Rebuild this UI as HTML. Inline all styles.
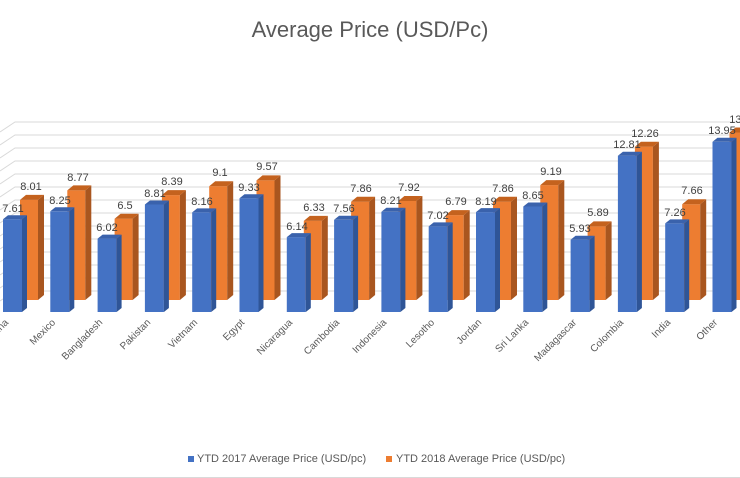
<!DOCTYPE html><html><head><style>body{margin:0;background:#fff}svg{display:block;font-family:"Liberation Sans",sans-serif}</style></head><body>
<svg width="740" height="478" viewBox="0 0 740 478">
<rect width="740" height="478" fill="#fff"/>
<text x="370" y="37" text-anchor="middle" font-size="22" fill="#595959">Average Price (USD/Pc)</text>
<g stroke="#d9d9d9" stroke-width="1" fill="none">
<path d="M0,132 L15,122 H740"/><path d="M0,145 L15,135 H740"/><path d="M0,158 L15,148 H740"/><path d="M0,171 L15,161 H740"/><path d="M0,184 L15,174 H740"/><path d="M0,197 L15,187 H740"/><path d="M0,210 L15,200 H740"/><path d="M0,223 L15,213 H740"/><path d="M0,236 L15,226 H740"/><path d="M0,249 L15,239 H740"/><path d="M0,262 L15,252 H740"/><path d="M0,275 L15,265 H740"/><path d="M0,288 L15,278 H740"/><path d="M0,301 L15,291 H740"/>
</g>
<g id="bars">
<!-- orange first (behind), then blue -->
<g fill="#ED7D31">
<rect x="20" y="199.9" width="18" height="100.1"/><rect x="67.3" y="190.4" width="18" height="109.6"/><rect x="114.6" y="218.7" width="18" height="81.3"/><rect x="161.9" y="195.1" width="18" height="104.9"/><rect x="209.2" y="186.2" width="18" height="113.8"/><rect x="256.5" y="180.4" width="18" height="119.6"/><rect x="303.8" y="220.9" width="18" height="79.1"/><rect x="351.1" y="201.7" width="18" height="98.3"/><rect x="398.4" y="201" width="18" height="99"/><rect x="445.7" y="215.1" width="18" height="84.9"/><rect x="493" y="201.7" width="18" height="98.3"/><rect x="540.3" y="185.1" width="18" height="114.9"/><rect x="587.6" y="226.4" width="18" height="73.6"/><rect x="634.9" y="146.7" width="18" height="153.3"/><rect x="682.2" y="204.2" width="18" height="95.8"/><rect x="729.5" y="132.5" width="18" height="167.5"/>
</g>
<g fill="#A9561F">
<path d="M38,199.9 l6,-5 V295 l-6,5Z"/><path d="M85.3,190.4 l6,-5 V295 l-6,5Z"/><path d="M132.6,218.7 l6,-5 V295 l-6,5Z"/><path d="M179.9,195.1 l6,-5 V295 l-6,5Z"/><path d="M227.2,186.2 l6,-5 V295 l-6,5Z"/><path d="M274.5,180.4 l6,-5 V295 l-6,5Z"/><path d="M321.8,220.9 l6,-5 V295 l-6,5Z"/><path d="M369.1,201.7 l6,-5 V295 l-6,5Z"/><path d="M416.4,201 l6,-5 V295 l-6,5Z"/><path d="M463.7,215.1 l6,-5 V295 l-6,5Z"/><path d="M511,201.7 l6,-5 V295 l-6,5Z"/><path d="M558.3,185.1 l6,-5 V295 l-6,5Z"/><path d="M605.6,226.4 l6,-5 V295 l-6,5Z"/><path d="M652.9,146.7 l6,-5 V295 l-6,5Z"/><path d="M700.2,204.2 l6,-5 V295 l-6,5Z"/>
</g>
<g fill="#C4621E">
<path d="M20,199.9 h18 l6,-5 h-18Z"/><path d="M67.3,190.4 h18 l6,-5 h-18Z"/><path d="M114.6,218.7 h18 l6,-5 h-18Z"/><path d="M161.9,195.1 h18 l6,-5 h-18Z"/><path d="M209.2,186.2 h18 l6,-5 h-18Z"/><path d="M256.5,180.4 h18 l6,-5 h-18Z"/><path d="M303.8,220.9 h18 l6,-5 h-18Z"/><path d="M351.1,201.7 h18 l6,-5 h-18Z"/><path d="M398.4,201 h18 l6,-5 h-18Z"/><path d="M445.7,215.1 h18 l6,-5 h-18Z"/><path d="M493,201.7 h18 l6,-5 h-18Z"/><path d="M540.3,185.1 h18 l6,-5 h-18Z"/><path d="M587.6,226.4 h18 l6,-5 h-18Z"/><path d="M634.9,146.7 h18 l6,-5 h-18Z"/><path d="M682.2,204.2 h18 l6,-5 h-18Z"/><path d="M729.5,132.5 h18 l6,-5 h-18Z"/>
</g>
<g fill="#4472C4">
<rect x="3" y="219.2" width="19" height="92.8"/><rect x="50.3" y="211.3" width="19" height="100.7"/><rect x="97.6" y="238.6" width="19" height="73.4"/><rect x="144.9" y="204.5" width="19" height="107.5"/><rect x="192.2" y="212.4" width="19" height="99.6"/><rect x="239.5" y="198.2" width="19" height="113.8"/><rect x="286.8" y="237.1" width="19" height="74.9"/><rect x="334.1" y="219.8" width="19" height="92.2"/><rect x="381.4" y="211.8" width="19" height="100.2"/><rect x="428.7" y="226.4" width="19" height="85.6"/><rect x="476" y="212.1" width="19" height="99.9"/><rect x="523.3" y="206.5" width="19" height="105.5"/><rect x="570.6" y="239.7" width="19" height="72.3"/><rect x="617.9" y="155.7" width="19" height="156.3"/><rect x="665.2" y="223.4" width="19" height="88.6"/><rect x="712.5" y="141.8" width="19" height="170.2"/>
</g>
<g fill="#2F5597">
<path d="M22,219.2 l5,-4 V308 l-5,4Z"/><path d="M69.3,211.3 l5,-4 V308 l-5,4Z"/><path d="M116.6,238.6 l5,-4 V308 l-5,4Z"/><path d="M163.9,204.5 l5,-4 V308 l-5,4Z"/><path d="M211.2,212.4 l5,-4 V308 l-5,4Z"/><path d="M258.5,198.2 l5,-4 V308 l-5,4Z"/><path d="M305.8,237.1 l5,-4 V308 l-5,4Z"/><path d="M353.1,219.8 l5,-4 V308 l-5,4Z"/><path d="M400.4,211.8 l5,-4 V308 l-5,4Z"/><path d="M447.7,226.4 l5,-4 V308 l-5,4Z"/><path d="M495,212.1 l5,-4 V308 l-5,4Z"/><path d="M542.3,206.5 l5,-4 V308 l-5,4Z"/><path d="M589.6,239.7 l5,-4 V308 l-5,4Z"/><path d="M636.9,155.7 l5,-4 V308 l-5,4Z"/><path d="M684.2,223.4 l5,-4 V308 l-5,4Z"/><path d="M731.5,141.8 l5,-4 V308 l-5,4Z"/>
</g>
<g fill="#3A62AC">
<path d="M3,219.2 h19 l5,-4 h-19Z"/><path d="M50.3,211.3 h19 l5,-4 h-19Z"/><path d="M97.6,238.6 h19 l5,-4 h-19Z"/><path d="M144.9,204.5 h19 l5,-4 h-19Z"/><path d="M192.2,212.4 h19 l5,-4 h-19Z"/><path d="M239.5,198.2 h19 l5,-4 h-19Z"/><path d="M286.8,237.1 h19 l5,-4 h-19Z"/><path d="M334.1,219.8 h19 l5,-4 h-19Z"/><path d="M381.4,211.8 h19 l5,-4 h-19Z"/><path d="M428.7,226.4 h19 l5,-4 h-19Z"/><path d="M476,212.1 h19 l5,-4 h-19Z"/><path d="M523.3,206.5 h19 l5,-4 h-19Z"/><path d="M570.6,239.7 h19 l5,-4 h-19Z"/><path d="M617.9,155.7 h19 l5,-4 h-19Z"/><path d="M665.2,223.4 h19 l5,-4 h-19Z"/><path d="M712.5,141.8 h19 l5,-4 h-19Z"/>
</g>
</g>
<g font-size="11" fill="#404040" text-anchor="middle">
<text x="13" y="212">7.61</text><text x="60" y="204">8.25</text><text x="107" y="231">6.02</text><text x="155" y="197">8.81</text><text x="202" y="205">8.16</text><text x="249" y="191">9.33</text><text x="297" y="230">6.14</text><text x="344" y="212">7.56</text><text x="391" y="204">8.21</text><text x="438" y="219">7.02</text><text x="486" y="205">8.19</text><text x="533" y="199">8.65</text><text x="580" y="232">5.93</text><text x="627" y="148">12.81</text><text x="675" y="216">7.26</text><text x="722" y="134">13.95</text>
<text x="31" y="190">8.01</text><text x="78" y="181">8.77</text><text x="125" y="209">6.5</text><text x="172" y="185">8.39</text><text x="220" y="176">9.1</text><text x="267" y="170">9.57</text><text x="314" y="211">6.33</text><text x="361" y="192">7.86</text><text x="409" y="191">7.92</text><text x="456" y="205">6.79</text><text x="503" y="192">7.86</text><text x="551" y="175">9.19</text><text x="598" y="216">5.89</text><text x="645" y="137">12.26</text><text x="692" y="194">7.66</text><text x="740" y="123">13.4</text>
</g>
<g font-size="10" fill="#595959" text-anchor="end">
<text transform="translate(9,323) rotate(-45)">China</text><text transform="translate(56,323) rotate(-45)">Mexico</text><text transform="translate(103,323) rotate(-45)">Bangladesh</text><text transform="translate(151,323) rotate(-45)">Pakistan</text><text transform="translate(198,323) rotate(-45)">Vietnam</text><text transform="translate(245,323) rotate(-45)">Egypt</text><text transform="translate(293,323) rotate(-45)">Nicaragua</text><text transform="translate(340,323) rotate(-45)">Cambodia</text><text transform="translate(387,323) rotate(-45)">Indonesia</text><text transform="translate(435,323) rotate(-45)">Lesotho</text><text transform="translate(482,323) rotate(-45)">Jordan</text><text transform="translate(529,323) rotate(-45)">Sri Lanka</text><text transform="translate(577,323) rotate(-45)">Madagascar</text><text transform="translate(624,323) rotate(-45)">Colombia</text><text transform="translate(671,323) rotate(-45)">India</text><text transform="translate(718,323) rotate(-45)">Other</text>
</g>
<rect x="188" y="456" width="6" height="6" fill="#4472C4"/>
<text x="197" y="462" font-size="11" fill="#595959">YTD 2017 Average Price (USD/pc)</text>
<rect x="386" y="456" width="6" height="6" fill="#ED7D31"/>
<text x="396" y="462" font-size="11" fill="#595959">YTD 2018 Average Price (USD/pc)</text>
<line x1="0" y1="477.5" x2="740" y2="477.5" stroke="#d9d9d9"/>
</svg>
</body></html>
